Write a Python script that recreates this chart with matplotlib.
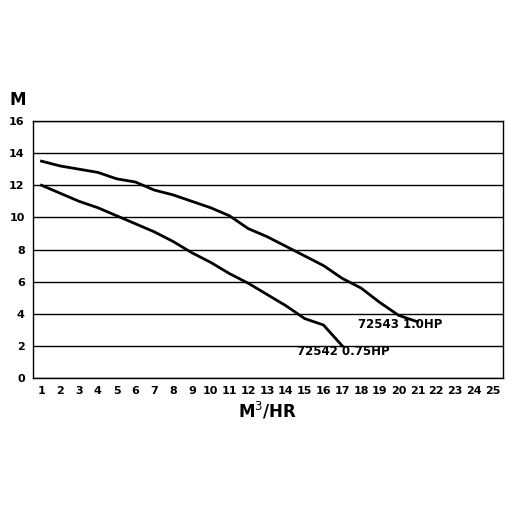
import matplotlib
matplotlib.use("Agg")
import matplotlib.pyplot as plt

x_ticks = list(range(1, 26))
y_ticks = [0, 2, 4, 6, 8, 10, 12, 14, 16]
flow_a = [1,2,3,4,5,6,7,8,9,10,11,12,13,14,15,16,17,18,19,20,21]
head_a = [13.5,13.2,13.0,12.8,12.4,12.2,11.7,11.4,11.0,10.6,10.1,9.3,8.8,8.2,7.6,7.0,6.2,5.6,4.7,3.9,3.5]
flow_b = [1,2,3,4,5,6,7,8,9,10,11,12,13,14,15,16,17]
head_b = [12.0,11.5,11.0,10.6,10.1,9.6,9.1,8.5,7.8,7.2,6.5,5.9,5.2,4.5,3.7,3.3,2.0]

fig = plt.figure(figsize=(5.12, 5.12), dpi=100)
ax = fig.add_axes([33/512, 1-378/512, 470/512, 257/512])
ax.plot(flow_a, head_a, color='black', lw=2)
ax.plot(flow_b, head_b, color='black', lw=2)
ax.set_xlim(0.55, 25.55)
ax.set_ylim(0, 16)
ax.set_xticks(x_ticks)
ax.set_yticks(y_ticks)
ax.tick_params(length=0, labelsize=8, pad=6)
for t in ax.get_xticklabels() + ax.get_yticklabels():
    t.set_fontweight('bold')
ax.yaxis.grid(True, color='black', lw=1)
for s in ax.spines.values():
    s.set_linewidth(1)
ax.text(17.84, 3.3, '72543 1.0HP', fontsize=8.5, fontweight='bold', ha='left', va='center')
ax.text(14.6, 1.62, '72542 0.75HP', fontsize=8.5, fontweight='bold', ha='left', va='center')
fig.text(18/512, 1-100/512, 'M', fontsize=12, fontweight='bold', ha='center', va='center')
fig.text(268/512, 1-411/512, 'M$^3$/HR', fontsize=12, fontweight='bold', ha='center', va='center')
fig.savefig('out.png', dpi=100)
